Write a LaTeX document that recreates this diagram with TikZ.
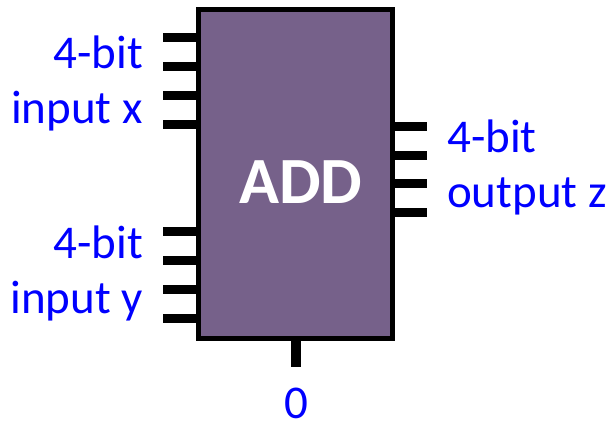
\documentclass[tikz,border=0pt]{standalone}
\usepackage{fontspec}
\setmainfont{Carlito}
\definecolor{boxfill}{RGB}{118,97,138}
\definecolor{lblue}{RGB}{0,0,255}
\begin{document}
\begin{tikzpicture}[x=1pt,y=-1pt,
  pinline/.style={line width=9pt,line cap=butt},
  lbl/.style={text=lblue,font=\fontsize{47}{55}\selectfont,inner sep=0pt},
  adder/.style={draw=black,line width=5pt,fill=boxfill,minimum width=194pt,minimum height=328.5pt,inner sep=0pt}]
\useasboundingbox (0,0) rectangle (613,423);
\node[adder] (add) at (295.5,173.75) {};
\node[text=white,font=\fontsize{66}{66}\selectfont\bfseries,inner sep=0pt,anchor=base] (addtxt) at (301,203) {ADD};
% left pins, input x
\foreach \y [count=\i] in {37.5,66,95,124}{
  \coordinate (xin\i) at (198.5,\y);
  \coordinate (xend\i) at (163,\y);
  \draw[pinline] (xin\i) -- (xend\i);
}
% left pins, input y
\foreach \y [count=\i] in {231,260,289,318}{
  \coordinate (yin\i) at (198.5,\y);
  \coordinate (yend\i) at (163,\y);
  \draw[pinline] (yin\i) -- (yend\i);
}
% right pins, output z
\foreach \y [count=\i] in {126.5,155,183.5,212.5}{
  \coordinate (zout\i) at (392.5,\y);
  \coordinate (zend\i) at (427,\y);
  \draw[pinline] (zout\i) -- (zend\i);
}
% bottom pin
\coordinate (cin) at (296,338);
\coordinate (cend) at (296,367);
\draw[pinline,line width=10pt] (cin) -- (cend);
% labels
\node[lbl,anchor=base east] (lx1) at (143,68) {4-bit};
\node[lbl,anchor=base east] (lx2) at (143,123) {input x};
\node[lbl,anchor=base east] (ly1) at (143,258) {4-bit};
\node[lbl,anchor=base east] (ly2) at (143,313) {input y};
\node[lbl,anchor=base west] (lz1) at (447,152) {4-bit};
\node[lbl,anchor=base west] (lz2) at (447,207) {output z};
\node[lbl,anchor=base] (l0) at (296,418) {0};
\end{tikzpicture}
\end{document}
